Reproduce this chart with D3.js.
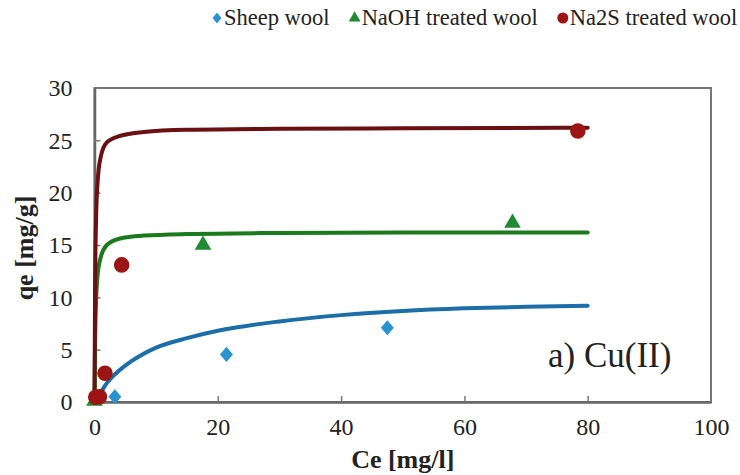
<!DOCTYPE html>
<html>
<head>
<meta charset="utf-8">
<script src="https://cdn.jsdelivr.net/npm/d3@7/dist/d3.min.js"></script>
</head>
<body style="margin:0">
<svg id="chart" width="740" height="475"></svg>
<script>
// ---- data ----
const seriesNames = ["Sheep wool", "NaOH treated wool", "Na2S treated wool"];
const xTicks = [0, 20, 40, 60, 80, 100];
const yTicks = [0, 5, 10, 15, 20, 25, 30];

// measured points [Ce, qe]
const sheepPoints = [[3.3, 0.5], [21.4, 4.55], [47.5, 7.1]];
const naohPoints = [[0.0, 0.1], [17.6, 15.0], [67.8, 17.1]];
const na2sPoints = [[0.2, 0.45], [0.8, 0.5], [1.7, 2.75], [4.4, 13.1], [78.4, 25.9]];

// fitted curves [Ce, qe]
const sheepCurve = [[0, 0], [1, 0.9], [2, 1.8], [4, 3.0], [6, 3.9], [10, 5.2], [15, 6.1], [20, 6.8], [30, 7.7], [40, 8.3], [50, 8.7], [60, 8.95], [70, 9.1], [80, 9.2]];
const naohCurve = [[0, 0], [0.1, 5.8], [0.25, 9.5], [0.5, 12.1], [1, 13.8], [2, 15.0], [4, 15.6], [8, 15.9], [15, 16.05], [30, 16.15], [50, 16.2], [80, 16.2]];
const na2sCurve = [[0, 0], [0.1, 11.5], [0.25, 17.4], [0.5, 21.0], [1, 23.4], [2, 24.8], [4, 25.4], [8, 25.8], [15, 26.0], [30, 26.1], [50, 26.15], [80, 26.2]];

const annotation = "a) Cu(II)";
const xTitle = "Ce [mg/l]";
const yTitle = "qe [mg/g]";

// ---- styles ----
const markerColors = ["#2a93cf", "#1f8a32", "#9c1414"];
const lineColors = ["#1c6ea8", "#1b7a1b", "#6a0f12"];
const FONT = "'Liberation Serif'";
const TXT = "#222";

const svg = d3.select("#chart");
const pLeft = 94.5, pRight = 711, pTop = 88, pBottom = 402;

const x = d3.scaleLinear().domain([0, 100]).range([pLeft, pRight]);
const y = d3.scaleLinear().domain([0, 30]).range([pBottom, pTop]);

// frame
svg.append("rect")
  .attr("x", pLeft).attr("y", pTop)
  .attr("width", pRight - pLeft).attr("height", pBottom - pTop)
  .attr("fill", "none").attr("stroke", "#777").attr("stroke-width", 2);

// axes with inside ticks
const xAxis = svg.append("g").attr("transform", `translate(0,${pBottom})`)
  .call(d3.axisBottom(x).tickValues(xTicks).tickSizeInner(-6).tickSizeOuter(0).tickPadding(16));
const yAxis = svg.append("g").attr("transform", `translate(${pLeft},0)`)
  .call(d3.axisLeft(y).tickValues(yTicks).tickSizeInner(-6).tickSizeOuter(0).tickPadding(22));
[xAxis, yAxis].forEach(a => {
  a.attr("font-family", FONT).attr("font-size", 24);
  a.select(".domain").attr("stroke", "#666").attr("stroke-width", 2.5);
  a.selectAll(".tick line").attr("stroke", "#777").attr("stroke-width", 1.5);
  a.selectAll(".tick text").attr("font-family", FONT).attr("font-size", 24).attr("fill", TXT);
});
xAxis.selectAll(".tick line").filter(d => d === 0 || d === 100).remove();
yAxis.selectAll(".tick line").filter(d => d === 0 || d === 30).remove();

// axis titles
svg.append("text").attr("x", (pLeft + pRight) / 2).attr("y", 468)
  .attr("text-anchor", "middle").attr("fill", TXT)
  .attr("font-family", FONT).attr("font-size", 26).attr("font-weight", "bold").text(xTitle);
svg.append("text")
  .attr("transform", `translate(33,${(pTop + pBottom) / 2 + 3}) rotate(-90)`)
  .attr("text-anchor", "middle").attr("fill", TXT)
  .attr("font-family", FONT).attr("font-size", 26).attr("font-weight", "bold").text(yTitle);

// curves
const line = d3.line().x(d => x(d[0])).y(d => y(d[1])).curve(d3.curveMonotoneX);
const curves = [sheepCurve, naohCurve, na2sCurve];
curves.forEach((c, i) => {
  svg.append("path").datum(c).attr("d", line)
    .attr("fill", "none").attr("stroke", lineColors[i])
    .attr("stroke-width", 4).attr("stroke-linecap", "round");
});

// markers
const symbols = [d3.symbolDiamond, d3.symbolTriangle, d3.symbolCircle];
const sizes = [65, 120, 190];
const pointSets = [sheepPoints, naohPoints, na2sPoints];
pointSets.forEach((pts, i) => {
  svg.append("g").selectAll("path").data(pts).join("path")
    .attr("transform", d => `translate(${x(d[0])},${y(d[1])})` + (i === 0 ? " scale(1.5,1)" : ""))
    .attr("d", d3.symbol().type(symbols[i]).size(sizes[i]))
    .attr("fill", markerColors[i]);
});

// annotation
svg.append("text").attr("x", 548).attr("y", 367).attr("fill", TXT)
  .attr("font-family", FONT).attr("font-size", 35).text(annotation);

// legend
const legend = svg.append("g");
let lx = 212;
const legY = 18;
const legSym = [d3.symbolDiamond, d3.symbolTriangle, d3.symbolCircle];
const legSize = [35, 60, 95];
seriesNames.forEach((name, i) => {
  legend.append("path")
    .attr("transform", `translate(${lx + 5},${legY})` + (i === 0 ? " scale(1.4,1)" : ""))
    .attr("d", d3.symbol().type(legSym[i]).size(legSize[i]))
    .attr("fill", markerColors[i]);
  const t = legend.append("text").attr("x", lx + 12).attr("y", legY + 7).attr("fill", TXT)
    .attr("font-family", FONT).attr("font-size", 22.5).text(name);
  lx += 12 + t.node().getComputedTextLength() + 20;
});
</script>
</body>
</html>
